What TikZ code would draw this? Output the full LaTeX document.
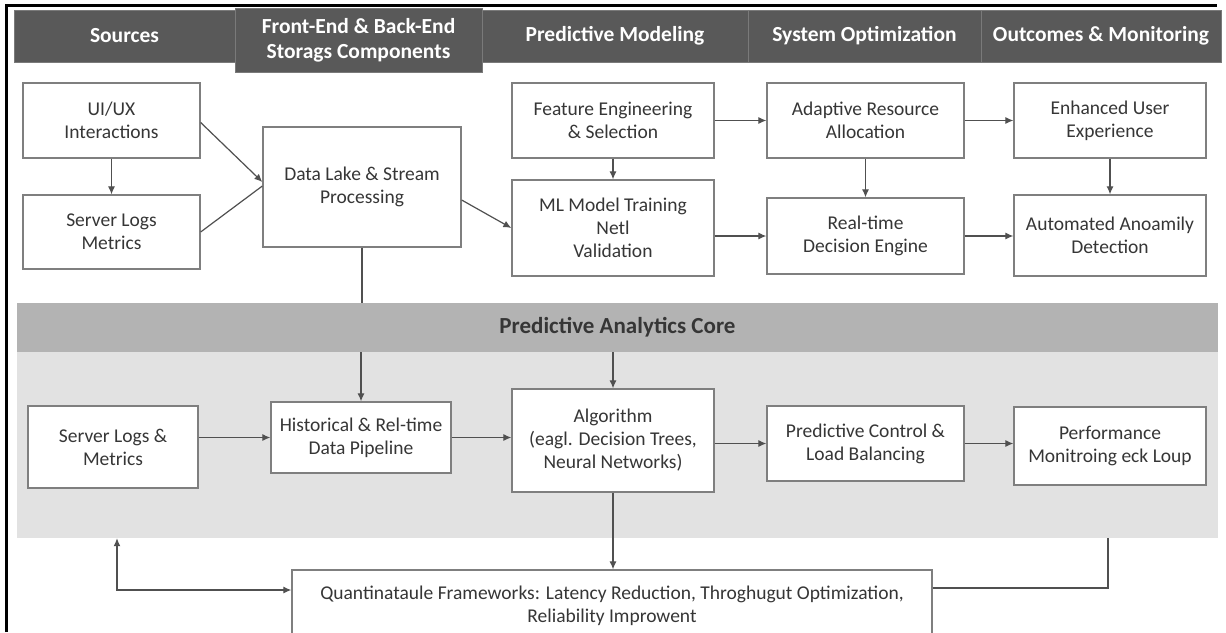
\documentclass[tikz,border=0pt]{standalone}
\usepackage{fontspec}
\setmainfont{Carlito}
\usetikzlibrary{arrows.meta,calc}
\definecolor{hdrgray}{HTML}{595959}
\definecolor{hdredge}{HTML}{7A7A7A}
\definecolor{bandgray}{HTML}{B3B3B3}
\definecolor{bodygray}{HTML}{E2E2E2}
\definecolor{boxedge}{HTML}{7F7F7F}
\definecolor{inkgray}{HTML}{363636}
\definecolor{wiregray}{HTML}{505050}
\tikzset{
  hdrcell/.style={draw=hdredge, line width=0.8pt, fill=hdrgray, text=white,
    font=\fontsize{21.5}{25}\selectfont\bfseries, align=center, inner sep=0pt},
  procbox/.style={draw=boxedge, line width=1.3pt, fill=white, text=inkgray,
    font=\fontsize{19.5}{23}\selectfont, align=center, inner sep=0pt},
  wire/.style={draw=wiregray, line width=1.2pt},
  arr/.style={wire, -{Latex[length=8pt,width=7pt]}},
  biarr/.style={wire, {Latex[length=8pt,width=7pt]}-{Latex[length=8pt,width=7pt]}},
}
\begin{document}
\begin{tikzpicture}[x=1pt,y=-1pt]
\useasboundingbox (0,0) rectangle (1226,632);
\fill[white] (0,0) rectangle (1226,632);

% outer frame (top and left edges)
\draw[black, line width=3pt] (6,632) -- (6,5) -- (1217,5);

% column headers
\node[hdrcell, minimum width=221pt, minimum height=52pt] (hsrc) at (124.5,36) {Sources};
\node[hdrcell, minimum width=266pt, minimum height=52pt] (hpm) at (615,36) {Predictive Modeling};
\node[hdrcell, minimum width=233pt, minimum height=52pt] (hso) at (864.5,36) {System Optimization};
\node[hdrcell, minimum width=240pt, minimum height=52pt] (hout) at (1101,36) {Outcomes \& Monitoring};
\node[hdrcell, minimum width=247pt, minimum height=64pt] (hfe) at (358.5,40) {Front-End \& Back-End\\Storags Components};

% predictive analytics core panel
\node[fill=bodygray, minimum width=1201pt, minimum height=186pt, inner sep=0pt] (corebody) at (617.5,445) {};
\node[fill=bandgray, minimum width=1201pt, minimum height=49pt, inner sep=0pt,
      font=\fontsize{23}{27}\selectfont\bfseries, text=inkgray] (corehead) at (617.5,327.5) {Predictive Analytics Core};

% upper flow
\node[procbox, minimum width=177pt, minimum height=75pt] (ui) at (111.5,120.5) {UI/UX\\Interactions};
\node[procbox, minimum width=177pt, minimum height=74pt] (srv) at (111.5,232) {Server Logs\\Metrics};
\node[procbox, minimum width=198pt, minimum height=120pt] (lake) at (362,187) {Data Lake \& Stream\\Processing};
\node[procbox, minimum width=202pt, minimum height=75pt] (feat) at (613,120.5) {Feature Engineering\\\& Selection};
\node[procbox, minimum width=202pt, minimum height=96pt] (ml) at (613,228) {ML Model Training\\Netl\\Validation};
\node[procbox, minimum width=197pt, minimum height=75pt] (adapt) at (865.5,120.5) {Adaptive Resource\\Allocation};
\node[procbox, minimum width=197pt, minimum height=76pt] (rt) at (865.5,236) {Real-time\\Decision Engine};
\node[procbox, minimum width=192pt, minimum height=75pt] (enh) at (1110,120.5) {Enhanced User\\Experience};
\node[procbox, minimum width=192pt, minimum height=81pt] (auto) at (1110,235.5) {Automated Anoamily\\Detection};

% core flow
\node[procbox, minimum width=170pt, minimum height=82pt] (slog) at (113,447) {Server Logs \&\\Metrics};
\node[procbox, minimum width=180pt, minimum height=71pt] (hist) at (361,437.5) {Historical \& Rel-time\\Data Pipeline};
\node[procbox, minimum width=202pt, minimum height=103pt] (algo) at (613,440.5) {Algorithm\\(eagl. Decision Trees,\\Neural Networks)};
\node[procbox, minimum width=197pt, minimum height=75pt] (pctl) at (865.5,443.5) {Predictive Control \&\\Load Balancing};
\node[procbox, minimum width=192pt, minimum height=78pt] (perf) at (1110,446) {Performance\\Monitroing eck Loup};

% frameworks box (runs past the lower edge)
\node[procbox, minimum width=640pt, minimum height=72pt] (quant) at (612,606)
  {Quantinataule Frameworks: Latency Reduction, Throghugut Optimization,\\Reliability Improwent};

% connectors: upper flow
\draw[arr] (ui.south) -- (srv.north);
\draw[arr] ([yshift=-2pt]ui.east) -- ([yshift=5pt]lake.west);
\draw[wire] (srv.east) -- ([yshift=1pt]lake.west);
\draw[arr] ([yshift=-13pt]lake.east) -- (ml.west);
\draw[arr] (feat.south) -- (ml.north);
\draw[arr] (feat.east) -- (adapt.west);
\draw[arr] (ml.east |- rt.west) -- (rt.west);
\draw[arr] (adapt.east) -- (enh.west);
\draw[arr] (rt.east) -- (rt.east -| auto.west);
\draw[arr] (adapt.south) -- (rt.north);
\draw[arr] (enh.south) -- (auto.north);
\draw[wire] (lake.south) -- (lake.south |- corehead.north);

% connectors: core flow
\draw[arr] (hist.north |- corehead.south) -- (hist.north);
\draw[arr] (algo.north |- corehead.south) -- (algo.north);
\draw[arr] (slog.east |- hist.west) -- (hist.west);
\draw[arr] (hist.east) -- (hist.east -| algo.west);
\draw[arr] (algo.east |- pctl.west) -- (pctl.west);
\draw[arr] (pctl.east) -- (pctl.east -| perf.west);
\draw[arr] (algo.south) -- (algo.south |- quant.north);

% feedback loops
\coordinate (fbl) at ([xshift=4pt]slog.south |- corebody.south);
\coordinate (fbr) at ([xshift=-2pt]perf.south |- corebody.south);
\draw[biarr] (fbl) |- ([yshift=16pt]quant.west);
\draw[wire] ([yshift=18pt]quant.east) -| (fbr);
\end{tikzpicture}
\end{document}
